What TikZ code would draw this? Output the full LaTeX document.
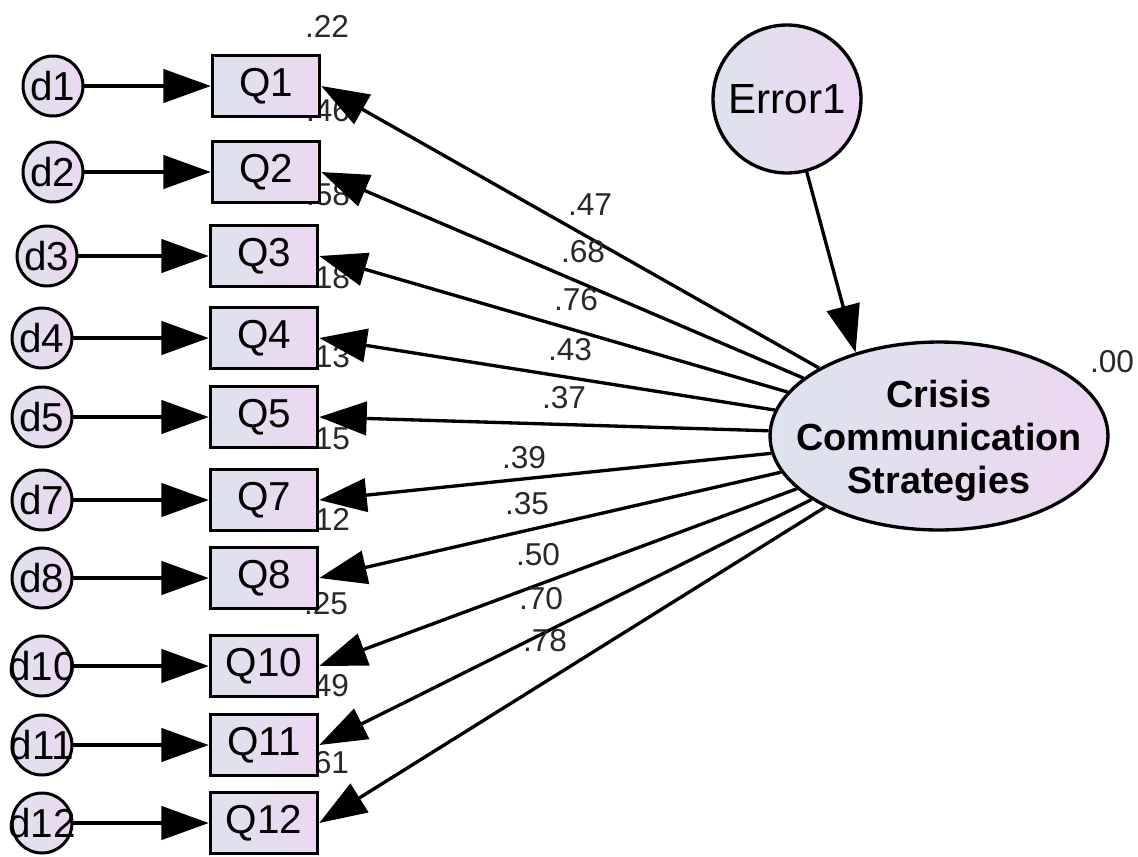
\documentclass[tikz,border=0pt]{standalone}
\usepackage{fontspec}
\setmainfont{Liberation Sans}
\usetikzlibrary{arrows.meta,shapes.geometric}
\definecolor{fillL}{RGB}{221,227,238}
\definecolor{fillR}{RGB}{237,215,242}
\definecolor{numgrey}{RGB}{40,40,40}
\begin{document}
\begin{tikzpicture}[x=0.02cm,y=-0.02cm,
  obsbox/.style={draw=black, line width=2pt, rectangle, minimum width=2.14cm,
    minimum height=1.22cm, inner sep=0pt, left color=fillL, right color=fillR,
    font=\fontsize{23}{26}\selectfont},
  errcirc/.style={draw=black, circle, line width=1.7pt, minimum size=1.2cm,
    inner sep=0pt, left color=fillL, right color=fillR,
    font=\fontsize{23}{26}\selectfont},
  bigcirc/.style={draw=black, circle, line width=1.9pt, minimum size=2.96cm,
    inner sep=0pt, left color=fillL, right color=fillR,
    font=\fontsize{24}{26}\selectfont},
  latent/.style={draw=black, ellipse, line width=1.9pt, minimum width=6.76cm,
    minimum height=3.76cm, inner sep=0pt, left color=fillL, right color=fillR},
  latenttext/.style={align=center, inner sep=0pt,
    font=\fontsize{21.5}{24.5}\selectfont\bfseries},
  link/.style={line width=1.9pt, -{Triangle[length=27pt,width=19pt]}},
  num/.style={font=\fontsize{18}{20}\selectfont, text=numgrey, inner sep=0pt}
]
\useasboundingbox (0,0) rectangle (1138,856);
\fill[white] (0,0) rectangle (1138,856);

% squared multiple correlations (drawn first so the boxes overlap them)
\node[num] (r1)  at (327,26)  {.22};
\node[num] (r2)  at (328,111) {.46};
\node[num] (r3)  at (328,195) {.58};
\node[num] (r4)  at (328,278) {.18};
\node[num] (r5)  at (328,357) {.13};
\node[num] (r7)  at (328,439) {.15};
\node[num] (r8)  at (328,519) {.12};
\node[num] (r10) at (326,604) {.25};
\node[num] (r11) at (327,686) {.49};
\node[num] (r12) at (327,763) {.61};

% observed indicators
\node[obsbox] (Q1)  at (266,86)  {Q1};
\node[obsbox] (Q2)  at (266,172) {Q2};
\node[obsbox] (Q3)  at (264,256) {Q3};
\node[obsbox] (Q4)  at (264,338) {Q4};
\node[obsbox] (Q5)  at (264,417) {Q5};
\node[obsbox] (Q7)  at (264,500) {Q7};
\node[obsbox] (Q8)  at (264,578) {Q8};
\node[obsbox] (Q10) at (264,666) {Q10};
\node[obsbox] (Q11) at (264,745) {Q11};
\node[obsbox] (Q12) at (264,823) {Q12};

% unique errors
\node[errcirc] (d1)  at (53,86)  {\makebox[0pt]{d1}};
\node[errcirc] (d2)  at (53,172) {\makebox[0pt]{d2}};
\node[errcirc] (d3)  at (47,256) {\makebox[0pt]{d3}};
\node[errcirc] (d4)  at (42,338) {\makebox[0pt]{d4}};
\node[errcirc] (d5)  at (42,417) {\makebox[0pt]{d5}};
\node[errcirc] (d7)  at (42,500) {\makebox[0pt]{d7}};
\node[errcirc] (d8)  at (42,578) {\makebox[0pt]{d8}};
\node[errcirc] (d10) at (42,666) {\makebox[0pt]{d10}};
\node[errcirc] (d11) at (42,745) {\makebox[0pt]{d11}};
\node[errcirc] (d12) at (42,823) {\makebox[0pt]{d12}};

% latent factor and its disturbance
\node[latent] (F) at (939,436) {};
\node[latenttext] (Ft) at (939,441) {Crisis\\Communication\\Strategies};
\node[bigcirc] (E) at (787,99) {\makebox[0pt]{Error1}};
\node[num] (rF) at (1112,362) {.00};

% error paths
\foreach \i in {1,2,3,4,5,7,8,10,11,12}
  \draw[link] (d\i) -- (Q\i.west);

% factor loadings
\foreach \i in {1,2,3,4,5,7,8,10,11,12}
  \draw[link] (F) -- (Q\i.east);
\draw[link] (E) -- (F.135);

\node[num] (l1)  at (590,205) {.47};
\node[num] (l2)  at (583,252) {.68};
\node[num] (l3)  at (576,300) {.76};
\node[num] (l4)  at (570,350) {.43};
\node[num] (l5)  at (564,398) {.37};
\node[num] (l7)  at (524,458) {.39};
\node[num] (l8)  at (527,504) {.35};
\node[num] (l10) at (538,555) {.50};
\node[num] (l11) at (541,599) {.70};
\node[num] (l12) at (545,641) {.78};
\end{tikzpicture}
\end{document}
